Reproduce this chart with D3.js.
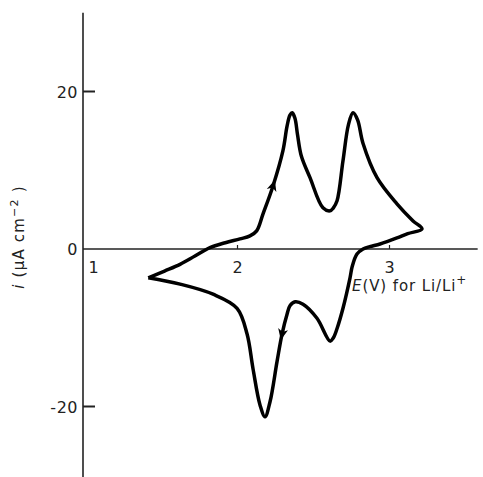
<!DOCTYPE html>
<html lang="en">
<head>
    <meta charset="UTF-8">
    <script src="https://d3js.org/d3.v7.min.js"></script>
    <title>Cyclic voltammogram</title>
    <style>
        body { margin: 0; background: #fff; }
        text { font-family: "DejaVu Sans", "Liberation Sans", sans-serif; fill: #222; }
    </style>
</head>
<body>
<div id="chart"></div>
<script>
    // potential E (V) and current i (uA cm^-2)
    // anodic sweep from the left vertex, then cathodic back
    const potential = [1.413, 1.52, 1.622, 1.72, 1.819, 1.92, 2.016, 2.082, 2.126, 2.168, 2.234, 2.299, 2.326, 2.345, 2.36, 2.378,
        2.395, 2.42, 2.477, 2.562, 2.609, 2.63, 2.655, 2.694, 2.73, 2.76, 2.79, 2.826, 2.918, 3.049, 3.155, 3.214,
        3.12, 3.049, 2.938, 2.87, 2.826, 2.786, 2.755, 2.74, 2.694, 2.655, 2.63, 2.609, 2.523, 2.431, 2.38, 2.345, 2.326,
        2.293, 2.26, 2.214, 2.181, 2.148, 2.102, 2.063, 1.997, 1.839, 1.622, 1.413]
    const current = [-3.66, -2.8, -1.95, -0.9, 0.17, 0.8, 1.28, 1.66, 2.30, 4.46, 8.04, 12.5, 15.6, 17.0, 17.3, 16.6,
        14.5, 11.8, 9.06, 5.23, 4.85, 5.2, 6.12, 11.2, 15.8, 17.3, 16.4, 13.4, 9.06, 5.74, 3.57, 2.55,
        1.95, 1.40, 0.64, 0.3, 0, -0.64, -2.2, -3.70, -7.53, -10.1, -11.3, -11.7, -8.80, -7.02, -6.7, -7.2, -8.29,
        -10.8, -14.3, -19.4, -21.3, -19.8, -15.2, -10.8, -7.53, -5.74, -4.46, -3.66]

    const yTicks = [20, 0, -20]
    const yTickLabels = ["20", "0", "-20"]
    const xTicks = [1, 2, 3]
    const xTickLabels = ["1", "2", "3"]
    // arrow positions on the curve (index of point they sit on)
    const arrowIdx = [10, 49]

    const width = 483
    const height = 477

    const x = d3.scaleLinear().domain([1, 3]).range([85.5, 389.5])
    const y = d3.scaleLinear().domain([-20, 20]).range([406.5, 91.5])

    const svg = d3.select("#chart").append("svg")
        .attr("width", width)
        .attr("height", height)

    const axisX = 83
    // y axis
    svg.append("line")
        .attr("stroke", "#222").attr("stroke-width", 1.6)
        .attr("x1", axisX).attr("x2", axisX)
        .attr("y1", y(30)).attr("y2", y(-30))
    // x axis along i = 0
    svg.append("line")
        .attr("stroke", "#222").attr("stroke-width", 1.6)
        .attr("x1", axisX).attr("x2", x(3.58))
        .attr("y1", y(0)).attr("y2", y(0))

    // y ticks (to the right of the axis)
    yTicks.forEach((t, i) => {
        if (t !== 0) {
            svg.append("line")
                .attr("stroke", "#222").attr("stroke-width", 2)
                .attr("x1", axisX).attr("x2", axisX + 12)
                .attr("y1", y(t)).attr("y2", y(t))
        }
        svg.append("text")
            .attr("x", 78)
            .attr("y", y(t) + 6)
            .attr("text-anchor", "end")
            .attr("font-size", 16)
            .attr("letter-spacing", 0.5)
            .text(yTickLabels[i])
    })

    // x ticks (small, upward)
    xTicks.forEach((t, i) => {
        if (t !== 1) {
            svg.append("line")
                .attr("stroke", "#222").attr("stroke-width", 1.2)
                .attr("x1", x(t)).attr("x2", x(t))
                .attr("y1", y(0)).attr("y2", y(0) - 4)
        }
        svg.append("text")
            .attr("x", t === 1 ? x(t) + 8 : x(t))
            .attr("y", y(0) + 24)
            .attr("text-anchor", "middle")
            .attr("font-size", 16)
            .text(xTickLabels[i])
    })

    // axis titles
    const xt = svg.append("text")
        .attr("x", 352)
        .attr("y", 291)
        .attr("font-size", 15)
        .attr("letter-spacing", 0.9)
    xt.append("tspan").attr("font-style", "italic").text("E")
    xt.append("tspan").text("(V) for Li/Li")
    xt.append("tspan").attr("dy", -7).attr("font-size", 12).text("+")

    const yt = svg.append("text")
        .attr("transform", "translate(24,237) rotate(-90)")
        .attr("text-anchor", "middle")
        .attr("font-size", 15)
        .attr("letter-spacing", 1.2)
    yt.append("tspan").attr("font-style", "italic").text("i")
    yt.append("tspan").text("  (\u00b5A cm")
    yt.append("tspan").attr("dy", -6).attr("font-size", 11).text("\u22122")
    yt.append("tspan").attr("dy", 6).text(" )")

    // curve
    const pts = potential.map((e, i) => [e, current[i]])
    const line = d3.line()
        .x(d => x(d[0]))
        .y(d => y(d[1]))
        .curve(d3.curveCatmullRom.alpha(0.5))

    svg.append("path")
        .datum(pts)
        .attr("fill", "none")
        .attr("stroke", "#000")
        .attr("stroke-width", 3.5)
        .attr("stroke-linejoin", "round")
        .attr("d", line)

    // direction arrows
    arrowIdx.forEach(k => {
        const p0 = pts[k - 1], p1 = pts[k + 1]
        const ang = Math.atan2(y(p1[1]) - y(p0[1]), x(p1[0]) - x(p0[0])) * 180 / Math.PI
        svg.append("path")
            .attr("d", "M6,0 L-5,-5 L-2,0 L-5,5 Z")
            .attr("fill", "#000")
            .attr("transform", `translate(${x(pts[k][0])},${y(pts[k][1])}) rotate(${ang})`)
    })
</script>
</body>
</html>
